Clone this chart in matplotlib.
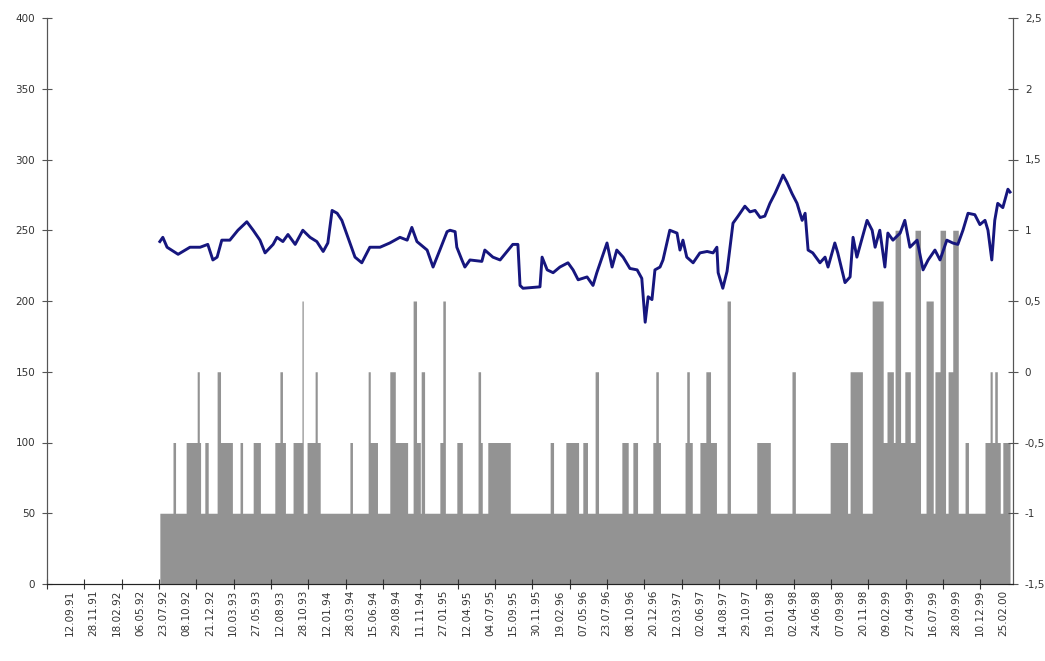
import matplotlib

matplotlib.use("Agg")
import matplotlib.pyplot as plt
import numpy as np

# category labels, one every 55 trading days
date_labels = [
    "12.09.91", "28.11.91", "18.02.92", "06.05.92", "23.07.92", "08.10.92",
    "21.12.92", "10.03.93", "27.05.93", "12.08.93", "28.10.93", "12.01.94",
    "28.03.94", "15.06.94", "29.08.94", "11.11.94", "27.01.95", "12.04.95",
    "04.07.95", "15.09.95", "30.11.95", "19.02.96", "07.05.96", "23.07.96",
    "08.10.96", "20.12.96", "12.03.97", "02.06.97", "14.08.97", "29.10.97",
    "19.01.98", "02.04.98", "24.06.98", "07.09.98", "20.11.98", "09.02.99",
    "27.04.99", "16.07.99", "28.09.99", "10.12.99", "25.02.00",
]
n_days = 2277

# index level (left axis) at trading-day numbers
line_day = [
    266, 273, 283, 309, 337, 361, 379, 391, 401, 412, 431, 450, 471, 486, 502,
    514, 533, 542, 556, 568, 585, 603, 620, 636, 651, 662, 672, 684, 695, 714,
    726, 742, 761, 785, 808, 832, 849, 860, 872, 896, 910, 926, 943, 950, 962,
    966, 978, 985, 997, 1025, 1032, 1051, 1068, 1098, 1110, 1115, 1122, 1162,
    1167, 1179, 1193, 1209, 1228, 1240, 1252, 1273, 1287, 1296, 1320, 1332,
    1343, 1358, 1374, 1391, 1402, 1410, 1417, 1426, 1433, 1445, 1452, 1468,
    1485, 1492, 1499, 1508, 1523, 1539, 1556, 1570, 1579, 1582, 1593, 1603,
    1617, 1629, 1645, 1657, 1669, 1681, 1692, 1704, 1716, 1728, 1735, 1744,
    1756, 1768, 1780, 1787, 1794, 1805, 1822, 1834, 1841, 1857, 1864, 1881,
    1893, 1900, 1909, 1933, 1945, 1952, 1963, 1975, 1982, 1994, 2011, 2022,
    2034, 2051, 2065, 2077, 2093, 2105, 2121, 2135, 2147, 2159, 2171, 2187,
    2199, 2211, 2218, 2227, 2234, 2241, 2253, 2265, 2270,
]
line_value = [
    242, 245, 238, 233, 238, 238, 240, 229, 231, 243, 243, 250, 256, 250, 243,
    234, 240, 245, 242, 247, 240, 250, 245, 242, 235, 241, 264, 262, 257, 241,
    231, 227, 238, 238, 241, 245, 243, 252, 242, 236, 224, 236, 249, 250, 249,
    238, 229, 224, 229, 228, 236, 231, 229, 240, 240, 211, 209, 210,
    231, 222, 220, 224, 227, 222, 215, 217, 211, 220, 241, 224,
    236, 231, 223, 222, 216, 185, 203, 201, 222, 224, 229, 250,
    248, 236, 243, 231, 227, 234, 235, 234, 238, 220, 209, 221,
    255, 260, 267, 263, 264, 259, 260, 269, 276, 284, 289, 284,
    276, 269, 257, 262, 236, 234, 227, 231, 224, 241, 234, 213,
    217, 245, 231, 257, 250, 238, 250, 224, 248, 243, 248, 257,
    238, 243, 222, 229, 236, 229, 243, 241, 240, 250, 262, 261,
    254, 257, 250, 229, 257, 269, 266, 279, 277,
]

# signal (right axis): -1 from first to last day, raised over these spans
signal_first = 266
signal_last = 2270
span_from = [
    297, 328, 354, 372, 401, 408, 455, 486, 537, 549, 580, 601, 613, 632, 714,
    757, 761, 808, 820, 863, 870, 882, 926, 933, 966, 1016, 1021, 1039, 1186,
    1223, 1263, 1292, 1355, 1381, 1428, 1435, 1504, 1508, 1539, 1553, 1603,
    1673, 1756, 1846, 1893, 1945, 1970, 1980, 1999, 2022, 2046, 2072, 2093,
    2105, 2124, 2135, 2164, 2211, 2223, 2234, 2253,
]
span_to = [
    302, 361, 358, 379, 408, 436, 460, 502, 561, 554, 601, 603, 643, 636, 719,
    761, 778, 820, 849, 870, 879, 889, 933, 938, 978, 1021, 1025, 1091, 1193,
    1252, 1273, 1299, 1369, 1391, 1445, 1440, 1520, 1513, 1577, 1563, 1610,
    1704, 1763, 1886, 1921, 1970, 2058, 1994, 2011, 2034, 2058, 2088, 2105,
    2117, 2135, 2147, 2171, 2246, 2227, 2239, 2270,
]
span_level = [
    -0.5, -0.5, 0, -0.5, 0, -0.5, -0.5, -0.5, -0.5, 0, -0.5, 0.5, -0.5, 0, -0.5,
    0, -0.5, 0, -0.5, 0.5, -0.5, 0, -0.5, 0.5, -0.5, 0, -0.5, -0.5, -0.5,
    -0.5, -0.5, 0, -0.5, -0.5, -0.5, 0, -0.5, 0, -0.5, 0, 0.5,
    -0.5, 0, -0.5, 0, 0.5, -0.5, 0, 1, 0, 1, 0.5, 0,
    1, 0, 1, -0.5, -0.5, 0, 0, -0.5,
]

days = np.arange(n_days + 1)
signal = np.full(days.shape, np.nan)
signal[signal_first:signal_last + 1] = -1.0
for i in np.argsort(span_level, kind="stable"):
    signal[span_from[i]:span_to[i] + 1] = span_level[i]

fig = plt.figure(figsize=(10.45, 6.61), dpi=100)
ax = fig.add_axes([47 / 1045, 77 / 661, 966 / 1045, 566 / 661])
axr = ax.twinx()
ax.set_zorder(2)
axr.set_zorder(1)
ax.patch.set_visible(False)

axr.fill_between(days, -1.5, signal, step="post", color="#939393", lw=0)
ax.plot(line_day, line_value, color="#16167e", lw=2.1, solid_joinstyle="round")

ax.set_xlim(0, n_days)
ax.set_ylim(0, 400)
axr.set_ylim(-1.5, 2.5)
ax.set_yticks(np.arange(0, 401, 50))
axr.set_yticks(np.arange(-1.5, 2.51, 0.5))
axr.set_yticklabels([f"{v:g}".replace(".", ",") for v in np.arange(-1.5, 2.51, 0.5)])

# tick marks every 88 days, labels every 55
ax.set_xticks(np.arange(0, n_days, 88))
ax.set_xticklabels([])
ax.set_xticks(54 + 55 * np.arange(len(date_labels)), minor=True)
ax.set_xticklabels(date_labels, minor=True, rotation=90, fontsize=7.5, color="#333333")
ax.tick_params(axis="x", which="minor", length=0, pad=4)
ax.tick_params(axis="x", which="major", direction="inout", length=7, color="#333333")

for a in (ax, axr):
    a.tick_params(axis="y", direction="inout", length=7, color="#555555",
                  labelsize=7.5, labelcolor="#333333")
    a.spines["top"].set_visible(False)
    for s in ("left", "right", "bottom"):
        a.spines[s].set_color("#555555")
ax.spines["bottom"].set_color("#222222")
ax.tick_params(axis="y", pad=5)
axr.tick_params(axis="y", pad=5)

fig.savefig("out.png", dpi=100, facecolor="white")
